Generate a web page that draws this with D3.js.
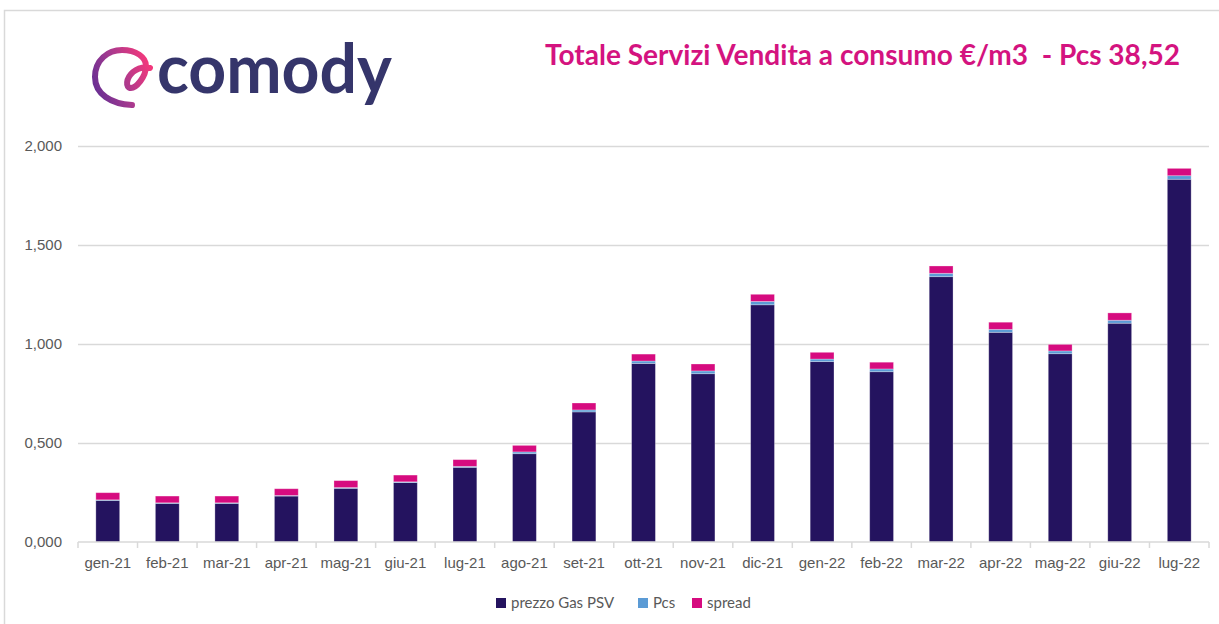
<!DOCTYPE html>
<html>
<head>
<meta charset="utf-8">
<script src="https://cdn.jsdelivr.net/npm/d3@7"></script>
<style>
  body { margin: 0; background: #fff; }
  svg { display: block; font-family: Lato, "Open Sans", sans-serif; }
  .axis text { fill: #595959; font-size: 15px; }
  .axis path, .axis line { stroke: #d9d9d9; stroke-width: 1.5; }
</style>
</head>
<body>
<svg id="chart"></svg>
<script>
// data
var months = ['gen-21', 'feb-21', 'mar-21', 'apr-21', 'mag-21', 'giu-21', 'lug-21', 'ago-21', 'set-21',
  'ott-21', 'nov-21', 'dic-21', 'gen-22', 'feb-22', 'mar-22', 'apr-22', 'mag-22', 'giu-22', 'lug-22'];
var prezzoGasPSV = [0.210, 0.195, 0.195, 0.232, 0.271, 0.300, 0.377, 0.446, 0.657,
  0.902, 0.850, 1.198, 0.911, 0.860, 1.340, 1.059, 0.951, 1.105, 1.832];
var pcs = [0.003, 0.003, 0.003, 0.003, 0.004, 0.004, 0.005, 0.009, 0.010,
  0.012, 0.014, 0.017, 0.013, 0.014, 0.017, 0.015, 0.014, 0.015, 0.018];
var spread = [0.036, 0.034, 0.034, 0.034, 0.035, 0.034, 0.034, 0.033, 0.035,
  0.035, 0.035, 0.036, 0.034, 0.034, 0.037, 0.036, 0.033, 0.037, 0.037];
var yTicks = [0, 0.5, 1, 1.5, 2];
var seriesNames = ['prezzo Gas PSV', 'Pcs', 'spread'];
var seriesColors = ['#24135F', '#5B9BD5', '#D60B7F'];

var render = (selector, size) => {
  var margin = size.margin;
  var width = size.width - margin.left - margin.right;
  var height = size.height - margin.top - margin.bottom;

  var rows = months.map((m, i) => ({ month: m, p0: prezzoGasPSV[i], p1: pcs[i], p2: spread[i] }));
  var stack = d3.stack().keys(['p0', 'p1', 'p2'])(rows);

  var x = d3.scaleBand()
    .domain(months)
    .range([0, width])
    .paddingInner(0.6)
    .paddingOuter(0.3);

  var y = d3.scaleLinear()
    .domain([0, 2])
    .range([height, 0]);

  var svg = d3.select(selector)
    .attr('width', size.width)
    .attr('height', size.height);

  // frame
  svg.append('path')
    .attr('d', `M4.5,${ size.height } V10.5 H${ size.width }`)
    .attr('fill', 'none')
    .attr('stroke', '#d9d9d9')
    .attr('stroke-width', 1.5);

  // logo
  var defs = svg.append('defs');
  var grad = defs.append('linearGradient').attr('id', 'logoGrad')
    .attr('x1', '0').attr('y1', '0.7').attr('x2', '1').attr('y2', '0.3');
  grad.append('stop').attr('offset', '0').attr('stop-color', '#6b2f93');
  grad.append('stop').attr('offset', '0.45').attr('stop-color', '#a53a8f');
  grad.append('stop').attr('offset', '1').attr('stop-color', '#f2387c');

  var logo = svg.append('g');
  logo.append('path')
    .attr('d', 'M132,105 C111,104 95,94 95,77 C95,60 108,50 122,50 C136,50 146,57 146,66 C146,77 136,88 131,88 C125,88 126,78 133,72 C138,68 145,67 150,68')
    .attr('fill', 'none')
    .attr('stroke', 'url(#logoGrad)')
    .attr('stroke-width', 6)
    .attr('stroke-linecap', 'round');
  logo.append('text')
    .attr('x', 157)
    .attr('y', 93)
    .attr('textLength', 235)
    .attr('lengthAdjust', 'spacingAndGlyphs')
    .style('font-size', '68px')
    .style('font-weight', 700)
    .style('fill', '#35356B')
    .text('comody');

  // title
  svg.append('text')
    .attr('x', 545)
    .attr('y', 65)
    .attr('textLength', 635)
    .attr('lengthAdjust', 'spacingAndGlyphs')
    .attr('xml:space', 'preserve')
    .style('white-space', 'pre')
    .style('font-size', '28px')
    .style('font-weight', 700)
    .style('fill', '#D4137F')
    .text('Totale Servizi Vendita a consumo €/m3  - Pcs 38,52');

  var chart = svg.append('g')
    .attr('transform', `translate(${ margin.left }, ${ margin.top })`);

  // y axis with gridlines
  var yAxis = d3.axisLeft(y)
    .tickValues(yTicks)
    .tickSize(-width)
    .tickPadding(16)
    .tickFormat(d => d3.format('.3f')(d).replace('.', ','));
  var yG = chart.append('g')
    .attr('class', 'axis y')
    .call(yAxis);
  yG.select('.domain').remove();
  yG.selectAll('text').attr('x', -16);
  yG.selectAll('.tick line').filter(d => d === 0).remove();

  // bars
  chart.selectAll('.series')
    .data(stack)
    .enter().append('g')
      .attr('class', 'series')
      .attr('fill', (d, i) => seriesColors[i])
    .selectAll('rect')
    .data(d => d)
    .enter().append('rect')
      .attr('x', d => x(d.data.month))
      .attr('y', d => y(d[1]))
      .attr('width', x.bandwidth())
      .attr('height', d => y(d[0]) - y(d[1]))
      .attr('stroke', 'rgba(255,255,255,0.35)')
      .attr('stroke-width', 0.8);

  // x axis
  var xAxis = d3.axisBottom(x).tickSize(0).tickPadding(15);
  var xG = chart.append('g')
    .attr('class', 'axis x')
    .attr('transform', `translate(0, ${ height })`)
    .call(xAxis);
  xG.select('.domain').attr('d', `M0,0H${ width }`);
  xG.selectAll('.boundary')
    .data(d3.range(months.length + 1))
    .enter().append('line')
      .attr('class', 'boundary')
      .attr('x1', i => i * x.step())
      .attr('x2', i => i * x.step())
      .attr('y1', 0)
      .attr('y2', 6);

  // legend
  var legendX = [496, 638, 692];
  var legend = svg.append('g').selectAll('g')
    .data(seriesNames)
    .enter().append('g')
      .attr('transform', (d, i) => `translate(${ legendX[i] }, 598)`);
  legend.append('rect')
    .attr('width', 10)
    .attr('height', 10)
    .attr('fill', (d, i) => seriesColors[i]);
  legend.append('text')
    .attr('x', 15)
    .attr('y', 10)
    .style('font-size', '15px')
    .style('fill', '#595959')
    .text(d => d);
};

render('#chart', {
  width: 1219,
  height: 624,
  margin: { top: 146, right: 10, bottom: 82, left: 78 }
});
</script>
</body>
</html>
